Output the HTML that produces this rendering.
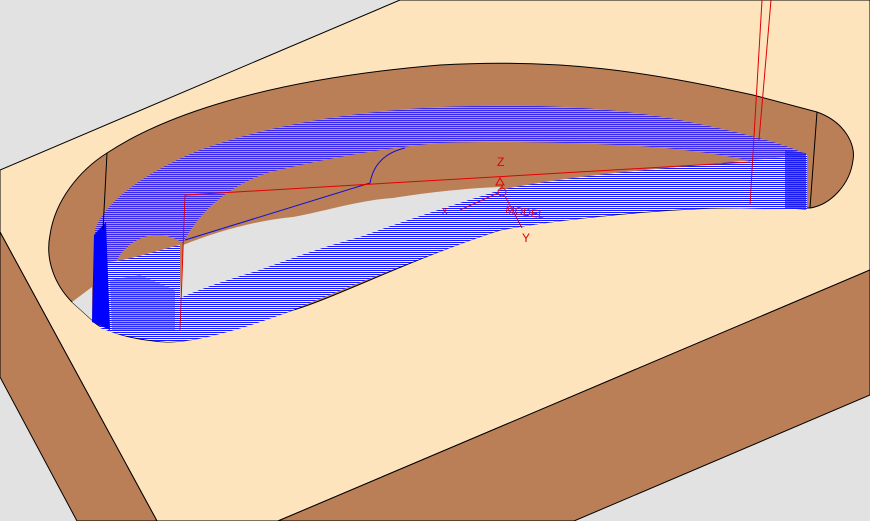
<!DOCTYPE html>
<html><head><meta charset="utf-8"><style>
html,body{margin:0;padding:0;background:#e2e2e2;}
svg{display:block;}
text{font-family:"Liberation Sans",sans-serif;}
</style></head><body>
<svg width="870" height="521" viewBox="0 0 870 521">
<defs>
<pattern id="pu" width="4" height="2" patternUnits="userSpaceOnUse">
<rect width="4" height="2" fill="#b294c8"/><rect width="4" height="1" fill="#3a28f0"/>
</pattern>
<pattern id="pl" width="4" height="2" patternUnits="userSpaceOnUse">
<rect width="4" height="2" fill="#f2f2ff"/><rect width="4" height="1" fill="#1a1aff"/>
</pattern>
</defs>
<rect width="870" height="521" fill="#e2e2e2"/>
<polygon points="0,170 400,0 870,0 870,270 278,521 157,521 0,232" fill="#fee4bd" stroke="#000" stroke-width="1"/>
<polygon points="0,232 157,521 77,521 0,377" fill="#bb7f57" stroke="#000" stroke-width="1"/>
<polygon points="870,270 278,521 574,521 870,395" fill="#bb7f57" stroke="#000" stroke-width="1"/>
<path d="M107,153 C160,118 260,80 440,65 C560,58 650,72 753,95 L817,112 C845,122 856,145 853,160 C850,185 830,205 810,208 L720,208 C640,210 540,222 500,230 C420,255 330,300 293,310 C250,325 200,342 167,342 C130,340 100,330 92,320 L72,302 C55,285 45,260 50,235 C55,200 80,170 107,153 Z" fill="#bb7f57" stroke="#000" stroke-width="1"/>
<path d="M183,245 C220,230 260,220 293,217 C330,210 360,200 393,198 C430,192 470,188 500,187 L500,200 C470,205 420,220 360,237 C320,250 280,262 260,270 C230,280 200,292 180,298 Z" fill="#e2e2e2"/>
<polygon points="72,302 92,287 92,320" fill="#e2e2e2"/>
<path d="M94,290 L95,230 C105,200 150,170 200,150 C260,128 340,112 440,107 C520,104 600,105 680,120 C740,132 790,145 807,155 L807,175 C760,160 700,150 640,146 C560,142 500,141 440,143 C380,148 320,160 270,172 C230,185 200,210 183,243 C160,228 135,235 120,255 L108,275 Z" fill="url(#pu)"/>
<path d="M108,262 C130,260 160,250 180,245 L180,298 C210,285 240,276 260,270 C300,255 330,245 360,237 C420,215 470,200 500,190 C560,178 620,172 700,165 L807,155 L807,210 L720,208 C640,210 560,220 500,230 C440,250 340,290 293,310 C250,327 200,342 167,342 C140,340 115,334 100,328 Z" fill="url(#pl)"/>
<path d="M92,322 L94,235 L106,222 L110,330 Z" fill="#0000ff"/>
<path d="M110,280 L140,275 L175,290 L175,330 L112,330 Z" fill="#3a3aff" opacity="0.5"/>
<path d="M785,150 L806,153 L806,210 L785,208 Z" fill="#1a1af0" opacity="0.7"/>
<line x1="107" y1="153" x2="103" y2="230" stroke="#000"/>
<line x1="817" y1="112" x2="810" y2="208" stroke="#000"/>
<path d="M185,240 L370,183 Q375,155 405,148" fill="none" stroke="#1010d0" stroke-width="1"/>
<g stroke="#e00000" fill="none" stroke-width="1">
<polyline points="180,330 185,195 750,162"/>
<line x1="762" y1="0" x2="750" y2="205"/>
<line x1="771" y1="0" x2="759" y2="140"/>
<polygon points="500,178 496,185 504,185"/>
<circle cx="502" cy="192" r="4"/>
<line x1="502" y1="185" x2="502" y2="188"/>
<line x1="498" y1="193" x2="460" y2="210"/>
<line x1="505" y1="196" x2="522" y2="228"/>
</g>
<text x="497" y="166" font-size="12" fill="#e00000">Z</text>
<text x="442" y="214" font-size="11" fill="#e00000">x</text>
<text x="505" y="213" font-size="11" fill="#e00000" transform="rotate(8 505 213)">MODEL</text>
<text x="522" y="242" font-size="12" fill="#e00000">Y</text>
</svg>
</body></html>
